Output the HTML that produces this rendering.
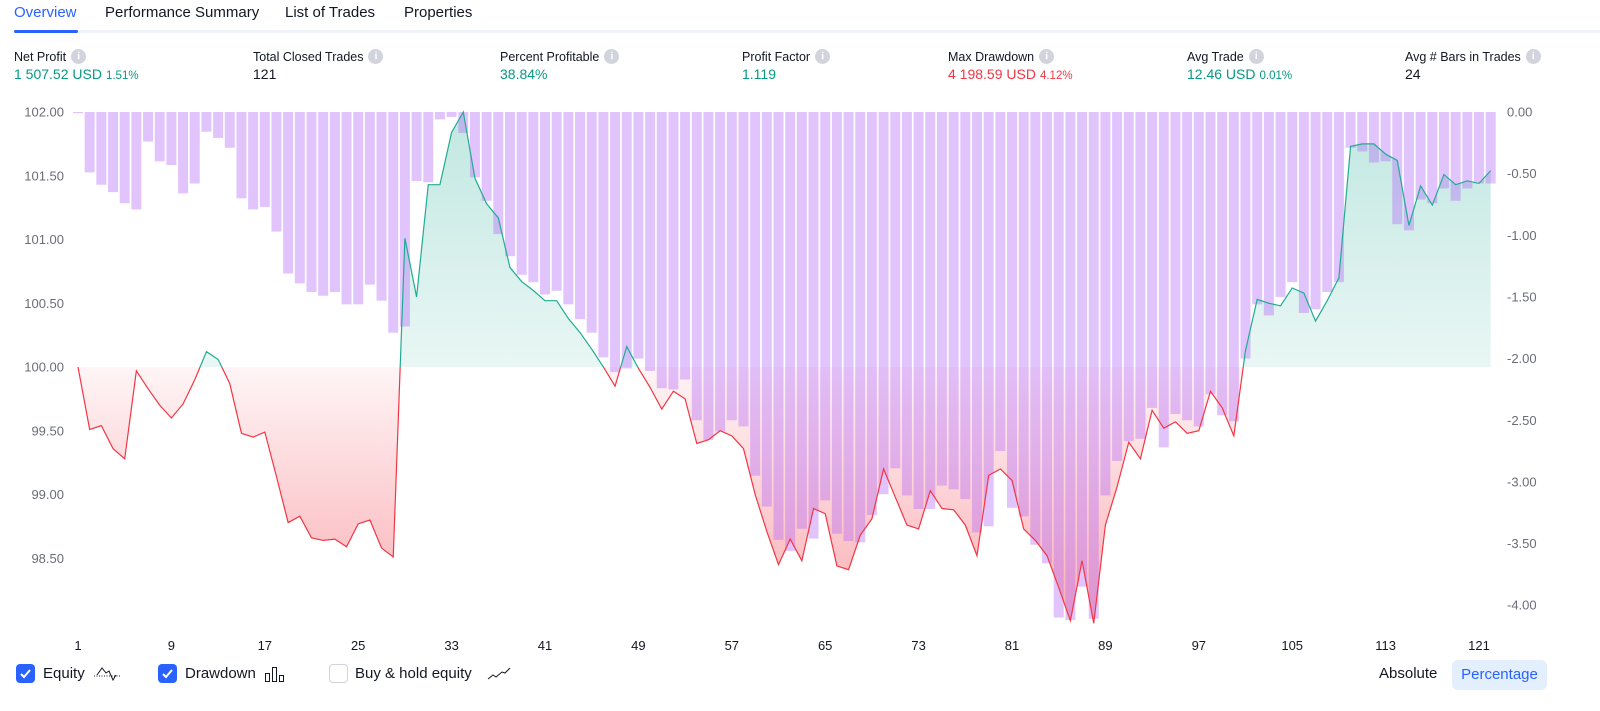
<!DOCTYPE html>
<html><head><meta charset="utf-8">
<style>
*{margin:0;padding:0;box-sizing:border-box}
body{width:1600px;height:711px;background:#fff;font-family:"Liberation Sans",sans-serif;color:#131722;position:relative;overflow:hidden}
.abs{position:absolute;white-space:nowrap}
.tab{top:4px;font-size:15px;color:#131722}
.lbl{top:49px;font-size:12.5px;color:#131722;display:flex;align-items:center}
.info{display:inline-block;width:15px;height:15px;border-radius:50%;background:#d1d4dc;color:#fff;font-size:10px;font-weight:bold;text-align:center;line-height:15px;margin-left:5px;font-family:"Liberation Serif",serif}
.val{top:66px;font-size:14px}
.pct{font-size:11.5px;margin-left:4px}
.g{color:#089981}.r{color:#f23645}
.cb{top:664px;width:19px;height:19px;border-radius:4px}
.cb.on{background:#2962ff}
.cb.off{border:1.5px solid #d1d4dc;background:#fff}
.leg{top:664px;font-size:15px;line-height:19px}
</style></head><body>
<div class="abs tab" style="left:14px;color:#2962ff">Overview</div>
<div class="abs tab" style="left:105px">Performance Summary</div>
<div class="abs tab" style="left:285px">List of Trades</div>
<div class="abs tab" style="left:404px">Properties</div>
<div class="abs" style="left:14px;top:30px;width:1586px;height:3px;background:#f0f3fa"></div>
<div class="abs" style="left:14px;top:30px;width:64px;height:3px;border-radius:2px;background:#2962ff"></div>

<div class="abs lbl" style="left:14px">Net Profit<span class="info">i</span></div>
<div class="abs val g" style="left:14px">1 507.52 USD<span class="pct">1.51%</span></div>
<div class="abs lbl" style="left:253px">Total Closed Trades<span class="info">i</span></div>
<div class="abs val" style="left:253px">121</div>
<div class="abs lbl" style="left:500px">Percent Profitable<span class="info">i</span></div>
<div class="abs val g" style="left:500px">38.84%</div>
<div class="abs lbl" style="left:742px">Profit Factor<span class="info">i</span></div>
<div class="abs val g" style="left:742px">1.119</div>
<div class="abs lbl" style="left:948px">Max Drawdown<span class="info">i</span></div>
<div class="abs val r" style="left:948px">4 198.59 USD<span class="pct">4.12%</span></div>
<div class="abs lbl" style="left:1187px">Avg Trade<span class="info">i</span></div>
<div class="abs val g" style="left:1187px">12.46 USD<span class="pct">0.01%</span></div>
<div class="abs lbl" style="left:1405px">Avg # Bars in Trades<span class="info">i</span></div>
<div class="abs val" style="left:1405px">24</div>

<svg id="chart" class="abs" style="left:0;top:0" width="1600" height="711" xmlns="http://www.w3.org/2000/svg">
<defs>
<linearGradient id="gg" x1="0" y1="112" x2="0" y2="367" gradientUnits="userSpaceOnUse"><stop offset="0" stop-color="#22ab94" stop-opacity="0.28"/><stop offset="1" stop-color="#22ab94" stop-opacity="0.1"/></linearGradient>
<linearGradient id="rg" x1="0" y1="367" x2="0" y2="622" gradientUnits="userSpaceOnUse"><stop offset="0" stop-color="#f23645" stop-opacity="0.05"/><stop offset="1" stop-color="#f23645" stop-opacity="0.4"/></linearGradient>
<clipPath id="cu"><rect x="0" y="0" width="1600" height="367"/></clipPath>
<clipPath id="cd"><rect x="0" y="367" width="1600" height="344"/></clipPath>
</defs>
<g id="fills"></g><g id="bars"></g><g id="lines"></g><g id="axes"></g>
</svg>

<div class="abs cb on" style="left:16px"><svg width="19" height="19"><path d="M5 10l3 3 6-7" stroke="#fff" stroke-width="2" fill="none"/></svg></div>
<div class="abs leg" style="left:43px">Equity</div>
<svg class="abs" style="left:92px;top:664px" width="30" height="20"><path d="M2 12h26" stroke="#131722" stroke-dasharray="1 1.5"/><path d="M5 11l5-7 4 5 3-2 4 9 3-5" stroke="#131722" fill="none"/></svg>
<div class="abs cb on" style="left:158px"><svg width="19" height="19"><path d="M5 10l3 3 6-7" stroke="#fff" stroke-width="2" fill="none"/></svg></div>
<div class="abs leg" style="left:185px">Drawdown</div>
<svg class="abs" style="left:264px;top:664px" width="26" height="20"><rect x="1.5" y="9.5" width="4" height="8" stroke="#131722" fill="none"/><rect x="8.5" y="3.5" width="4" height="14" stroke="#131722" fill="none"/><rect x="15.5" y="11.5" width="4" height="6" stroke="#131722" fill="none"/></svg>
<div class="abs cb off" style="left:329px"></div>
<div class="abs leg" style="left:355px">Buy &amp; hold equity</div>
<svg class="abs" style="left:486px;top:664px" width="26" height="20"><path d="M2 15l5-4 3 2 6-5 3 1 5-5" stroke="#131722" fill="none"/></svg>
<div class="abs" style="left:1379px;top:665px;font-size:15px">Absolute</div>
<div class="abs" style="left:1452px;top:660px;width:95px;height:30px;border-radius:6px;background:#e3effd;color:#2962ff;font-size:15px;line-height:30px;text-align:center">Percentage</div>

<script>
const trades = Array.from({length:122},(_,i)=>i+1);
const equity = [100.00,99.51,99.54,99.36,99.28,99.97,99.83,99.70,99.60,99.71,99.90,100.12,100.06,99.87,99.48,99.45,99.49,99.14,98.78,98.83,
98.66,98.64,98.65,98.59,98.77,98.80,98.58,98.51,101.01,100.55,101.43,101.43,101.84,102.00,101.48,101.28,101.17,100.78,100.67,100.60,
100.52,100.52,100.38,100.27,100.14,100.00,99.85,100.16,99.99,99.84,99.67,99.81,99.75,99.40,99.43,99.50,99.46,99.36,99.00,98.71,
98.45,98.65,98.48,98.89,98.85,98.44,98.41,98.68,98.81,99.20,98.98,98.76,98.73,99.03,98.89,98.88,98.76,98.52,99.15,99.20,
99.11,98.73,98.64,98.52,98.27,98.01,98.48,97.99,98.76,99.06,99.41,99.28,99.66,99.52,99.57,99.48,99.50,99.81,99.68,99.46,
100.13,100.53,100.50,100.48,100.62,100.58,100.36,100.52,100.70,101.73,101.75,101.75,101.67,101.62,101.11,101.42,101.27,101.51,101.43,101.46,
101.44,101.54];
const drawdown = [-0.01,-0.49,-0.59,-0.65,-0.74,-0.79,-0.24,-0.40,-0.43,-0.66,-0.58,-0.16,-0.21,-0.29,-0.70,-0.79,-0.77,-0.97,-1.31,-1.39,
-1.46,-1.49,-1.46,-1.56,-1.56,-1.40,-1.53,-1.79,-1.74,-0.56,-0.57,-0.06,-0.04,-0.17,-0.53,-0.72,-0.99,-1.17,-1.32,-1.38,
-1.48,-1.45,-1.56,-1.68,-1.79,-1.99,-2.11,-2.08,-2.00,-2.10,-2.24,-2.25,-2.17,-2.50,-2.66,-2.59,-2.50,-2.55,-2.95,-3.20,
-3.47,-3.56,-3.38,-3.46,-3.15,-3.42,-3.48,-3.49,-3.27,-3.10,-2.89,-3.11,-3.22,-3.22,-3.03,-3.06,-3.14,-3.41,-3.36,-2.75,
-3.21,-3.28,-3.51,-3.66,-4.10,-4.12,-3.85,-4.11,-3.11,-2.83,-2.67,-2.65,-2.40,-2.72,-2.45,-2.50,-2.55,-2.29,-2.46,-2.51,
-2.00,-1.56,-1.65,-1.50,-1.38,-1.63,-1.60,-1.46,-1.38,-0.29,-0.32,-0.41,-0.40,-0.91,-0.96,-0.71,-0.74,-0.62,-0.72,-0.62,
-0.58,-0.58];
const leftTicks = [102.00,101.50,101.00,100.50,100.00,99.50,99.00,98.50];
const rightTicks = [0.00,-0.50,-1.00,-1.50,-2.00,-2.50,-3.00,-3.50,-4.00];
const xTicks = [1,9,17,25,33,41,49,57,65,73,81,89,97,105,113,121];
const baseline = 100;

const NS='http://www.w3.org/2000/svg';
const xS = t => 78 + (t-1)*11.675;
const yL = v => 367 - (v-100)*127.5;
const yR = v => 112 - v*123.3;
function mk(tag, attrs, parent){const e=document.createElementNS(NS,tag);for(const k in attrs)e.setAttribute(k,attrs[k]);parent.appendChild(e);return e;}
const fills=document.getElementById('fills'),bars=document.getElementById('bars'),lines=document.getElementById('lines'),axes=document.getElementById('axes');

let pts = trades.map((t,i)=>xS(t).toFixed(2)+','+yL(equity[i]).toFixed(2)).join(' ');
let poly = xS(trades[0])+','+yL(baseline)+' '+pts+' '+xS(trades[trades.length-1])+','+yL(baseline);
const gf=mk('polygon',{points:poly,fill:'url(#gg)','clip-path':'url(#cu)'},fills);


const rf=mk('polygon',{points:poly,fill:'url(#rg)','clip-path':'url(#cd)'},fills);



trades.forEach((t,i)=>{
  const y0=yR(0), y1=yR(drawdown[i]);
  const b=mk('rect',{x:(xS(t)-5).toFixed(2),y:y0,width:10,height:Math.max(1,y1-y0).toFixed(2),fill:'rgb(180,100,250)','fill-opacity':0.38},bars);
  
  
});

const gl=mk('polyline',{points:pts,fill:'none',stroke:'#22ab94','stroke-width':1.2,'clip-path':'url(#cu)'},lines);


const rl=mk('polyline',{points:pts,fill:'none',stroke:'#f23645','stroke-width':1.2,'clip-path':'url(#cd)'},lines);



leftTicks.forEach(v=>{
  const t=mk('text',{x:64,y:yL(v)+4.5,'text-anchor':'end','font-size':13,fill:'#6a6d78','font-family':'Liberation Sans, sans-serif'},axes);
  t.textContent=v.toFixed(2);
  
  
});
rightTicks.forEach(v=>{
  const t=mk('text',{x:1507,y:yR(v)+4.5,'font-size':13,fill:'#6a6d78','font-family':'Liberation Sans, sans-serif'},axes);
  t.textContent=(v===0?'0.00':v.toFixed(2));
  
  
});
xTicks.forEach(v=>{
  const t=mk('text',{x:xS(v),y:650,'text-anchor':'middle','font-size':13,fill:'#131722','font-family':'Liberation Sans, sans-serif'},axes);
  t.textContent=v;
  
  
});
</script>
</body></html>
